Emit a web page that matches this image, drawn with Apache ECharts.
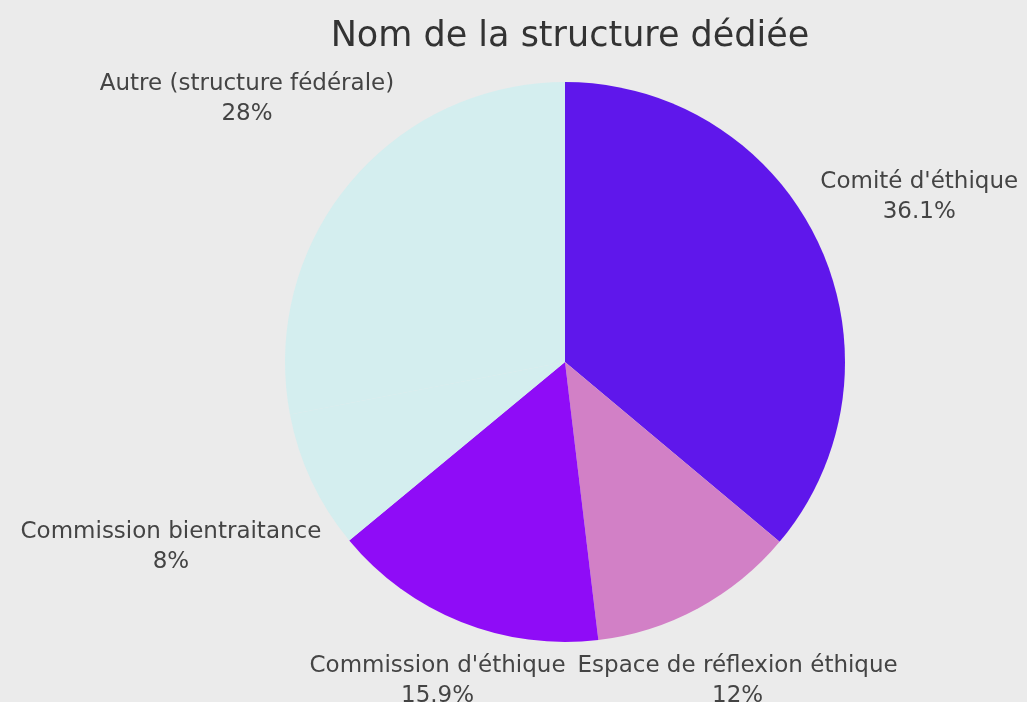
<!DOCTYPE html>
<html>
<head>
<meta charset="utf-8">
<script src="https://cdn.jsdelivr.net/npm/echarts@6/dist/echarts.min.js"></script>
<style>
  html, body { margin: 0; padding: 0; background: #ebebeb; }
  #chart { width: 1027px; height: 702px; }
</style>
</head>
<body>
<div id="chart"></div>
<script>
  // données
  var categories = ['Comité d\'éthique', 'Espace de réflexion éthique', 'Commission d\'éthique', 'Commission bientraitance', 'Autre (structure fédérale)'];
  var percents = [36.1, 12, 15.9, 8, 28];
  var colors = ['#5f17eb', '#d280c6', '#8f0cf7', '#d4eeef', '#d4eeef'];

  var cx = 565, cy = 362, R = 280, gap = 9;

  // angle milieu de chaque part (sens horaire depuis midi)
  var total = percents.reduce(function (a, b) { return a + b; }, 0);
  var mids = [];
  var acc = 0;
  percents.forEach(function (p) {
    mids.push((acc + p / 2) / total * 2 * Math.PI);
    acc += p;
  });

  var chart = echarts.init(document.getElementById('chart'));
  chart.setOption({
    backgroundColor: '#ebebeb',
    title: {
      text: 'Nom de la structure dédiée',
      left: 565,
      textAlign: 'center',
      top: 14,
      textStyle: { fontFamily: 'DejaVu Sans', fontSize: 35, fontWeight: 'normal', color: '#333' }
    },
    series: [{
      type: 'pie',
      center: [cx, cy],
      radius: R,
      startAngle: 90,
      clockwise: true,
      avoidLabelOverlap: false,
      label: {
        show: true,
        position: 'outside',
        formatter: '{b}\n{c}%',
        fontFamily: 'DejaVu Sans',
        fontSize: 23,
        lineHeight: 30,
        color: '#444',
        align: 'center'
      },
      labelLine: { show: false },
      // étiquette centrée sur le rayon médian, coin le plus proche sur le cercle
      labelLayout: function (params) {
        var th = mids[params.dataIndex];
        var ux = Math.sin(th), uy = -Math.cos(th);
        var hw = params.labelRect.width / 2, hh = params.labelRect.height / 2;
        var a = (ux >= 0 ? 1 : -1) * hw, b = (uy >= 0 ? 1 : -1) * hh;
        var rho = R + gap;
        var k = ux * a + uy * b;
        var d = k + Math.sqrt(k * k - (a * a + b * b - rho * rho));
        return {
          x: cx + d * ux,
          y: cy + d * uy,
          align: 'center',
          verticalAlign: 'middle'
        };
      },
      emphasis: { disabled: true },
      itemStyle: { borderWidth: 0 },
      data: categories.map(function (c, i) {
        return { name: c, value: percents[i], itemStyle: { color: colors[i] } };
      })
    }]
  });
</script>
</body>
</html>
